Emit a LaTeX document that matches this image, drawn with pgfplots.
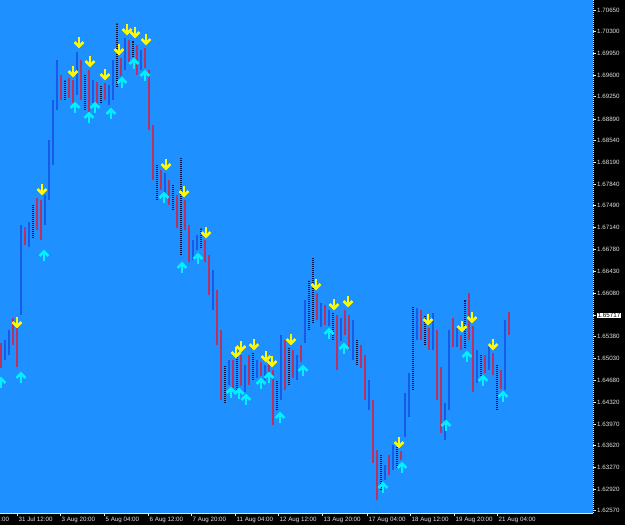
\documentclass[border=0pt]{standalone}
\usepackage{pgfplots}
\pgfplotsset{compat=1.18}
\usepackage{pgfplotstable}
\usepackage{fontspec}
\setmainfont{Liberation Sans}
\definecolor{mtblue}{RGB}{30,144,255}
\definecolor{barred}{RGB}{185,50,95}
\definecolor{barblue}{RGB}{22,92,232}
\definecolor{bardot}{RGB}{15,20,70}
\definecolor{arryel}{RGB}{255,250,0}
\definecolor{arrcyan}{RGB}{0,240,255}
\definecolor{lbl}{RGB}{225,225,225}
\newcommand{\lblfont}{\fontsize{6.2}{7}\selectfont}

\pgfdeclareplotmark{darr}{%
  \pgfsetlinewidth{2.6pt}\pgfsetmiterjoin\pgfsetbuttcap
  \pgfpathmoveto{\pgfqpoint{0pt}{5.8pt}}\pgfpathlineto{\pgfqpoint{0pt}{-3.5pt}}\pgfusepathqstroke
  \pgfpathmoveto{\pgfqpoint{-4.4pt}{0.9pt}}\pgfpathlineto{\pgfqpoint{0pt}{-3.5pt}}\pgfpathlineto{\pgfqpoint{4.4pt}{0.9pt}}\pgfusepathqstroke
}
\pgfdeclareplotmark{uarr}{%
  \pgfsetlinewidth{2.6pt}\pgfsetmiterjoin\pgfsetbuttcap
  \pgfpathmoveto{\pgfqpoint{0pt}{-5.8pt}}\pgfpathlineto{\pgfqpoint{0pt}{3.5pt}}\pgfusepathqstroke
  \pgfpathmoveto{\pgfqpoint{-4.4pt}{-0.9pt}}\pgfpathlineto{\pgfqpoint{0pt}{3.5pt}}\pgfpathlineto{\pgfqpoint{4.4pt}{-0.9pt}}\pgfusepathqstroke
}

% bearish bars (red)
\pgfplotstableread{
x lo hi
1 1.64873 1.65276
13 1.65243 1.65679
17 1.64889 1.65566
25 1.66857 1.67148
37 1.67099 1.67616
41 1.66938 1.67584
61 1.69197 1.69600
69 1.69230 1.69552
73 1.69149 1.69520
81 1.69197 1.69843
89 1.69004 1.69681
97 1.69116 1.69488
105 1.69197 1.69472
121 1.69584 1.69875
129 1.69811 1.70166
137 1.69600 1.70085
145 1.69714 1.70037
149 1.68713 1.69681
153 1.67906 1.68794
161 1.67745 1.68068
169 1.67503 1.67906
177 1.67132 1.67664
185 1.67099 1.67584
189 1.66583 1.67180
205 1.66583 1.66938
209 1.66050 1.66696
217 1.65243 1.66131
221 1.64356 1.65486
233 1.64550 1.65002
241 1.64582 1.65082
249 1.64598 1.65082
261 1.64743 1.64970
269 1.64808 1.65002
273 1.63952 1.64840
285 1.64518 1.65324
293 1.64711 1.65163
301 1.64970 1.65243
317 1.65647 1.66083
325 1.65566 1.65889
337 1.64840 1.65727
345 1.65405 1.65808
349 1.65163 1.65727
361 1.64873 1.65243
365 1.64356 1.65082
373 1.63340 1.64356
377 1.62742 1.63549
389 1.63146 1.63468
401 1.63388 1.63533
421 1.65324 1.65808
429 1.65163 1.65518
437 1.64356 1.65486
441 1.63824 1.64889
453 1.65211 1.65679
461 1.65163 1.65405
469 1.65324 1.66083
473 1.64486 1.65550
485 1.64792 1.65082
493 1.64759 1.65115
501 1.64534 1.64840
509 1.65405 1.65776
}\tblR

% bullish bars (blue)
\pgfplotstableread{
x lo hi
5 1.65002 1.65324
9 1.65082 1.65486
21 1.65727 1.67180
29 1.66825 1.67229
45 1.67180 1.67664
49 1.67584 1.68552
53 1.68148 1.69197
57 1.69036 1.69843
77 1.69278 1.69972
93 1.69149 1.69520
109 1.69116 1.69439
113 1.69197 1.69843
125 1.69681 1.70198
141 1.69681 1.70004
165 1.67664 1.68020
193 1.66615 1.66938
197 1.66777 1.67018
213 1.65808 1.66454
229 1.64598 1.65002
245 1.64486 1.64921
257 1.64711 1.65002
265 1.64679 1.64921
281 1.64356 1.65405
297 1.64679 1.65082
305 1.65276 1.65970
321 1.65534 1.65922
329 1.65550 1.65808
341 1.65308 1.65679
353 1.65002 1.65647
369 1.64195 1.64679
385 1.63065 1.63307
393 1.63227 1.63630
405 1.63759 1.64470
409 1.64082 1.64792
417 1.65324 1.65841
433 1.65163 1.65760
445 1.63711 1.64308
449 1.64195 1.65486
457 1.65211 1.65518
477 1.64631 1.65163
489 1.64840 1.65243
505 1.64518 1.65647
}\tblB

% dotted bars
\pgfplotstableread{
x lo hi
33 1.66970 1.67503
65 1.69197 1.69520
85 1.69036 1.69600
101 1.69149 1.69439
117 1.69407 1.70440
133 1.69891 1.70150
157 1.67584 1.68148
173 1.67422 1.67825
181 1.66696 1.68261
201 1.66809 1.67132
225 1.64308 1.64921
237 1.64518 1.65082
253 1.64679 1.65115
277 1.64195 1.64679
289 1.64598 1.65195
309 1.65486 1.66293
313 1.65599 1.66648
333 1.65324 1.65760
357 1.64921 1.65324
381 1.62904 1.63468
397 1.63259 1.63630
413 1.64518 1.65857
425 1.65243 1.65727
465 1.65195 1.65970
481 1.64679 1.65082
497 1.64195 1.64921
}\tblD

\begin{document}
\begin{tikzpicture}
\path[use as bounding box, fill=black] (0pt,0pt) rectangle (625pt,525pt);
\clip (0pt,0pt) rectangle (625pt,525pt);
\begin{axis}[
  at={(0pt,12pt)}, anchor=south west,
  scale only axis, width=593pt, height=513pt,
  xmin=0, xmax=593, ymin=1.62533, ymax=1.70811,
  axis background/.style={fill=mtblue},
  axis x line*=bottom, axis y line*=right,
  x axis line style={white!90!black, line width=0.6pt},
  y axis line style={white!90!black, line width=0.6pt, dash pattern=on 1pt off 1pt},
  tick style={white!90!black, line width=0.6pt},
  tick align=outside, major tick length=3pt,
  scaled y ticks=false,
  xtick={17,60,104,148,191,235,278,322,367,410,454,497},
  xticklabels={31 Jul 12:00, 3 Aug 20:00, 5 Aug 04:00, 6 Aug 12:00, 7 Aug 20:00, 11 Aug 04:00, 12 Aug 12:00, 13 Aug 20:00, 17 Aug 04:00, 18 Aug 12:00, 19 Aug 20:00, 21 Aug 04:00},
  xticklabel style={anchor=north west, inner sep=0pt, xshift=1.5pt, yshift=-0.5pt, font=\lblfont, text=lbl},
  ytick={1.70650,1.70300,1.69950,1.69600,1.69250,1.68890,1.68540,1.68190,1.67840,1.67490,1.67140,1.66780,1.66430,1.66080,1.65380,1.65030,1.64680,1.64320,1.63970,1.63620,1.63270,1.62920,1.62570},
  yticklabels={1.70650,1.70300,1.69950,1.69600,1.69250,1.68890,1.68540,1.68190,1.67840,1.67490,1.67140,1.66780,1.66430,1.66080,1.65380,1.65030,1.64680,1.64320,1.63970,1.63620,1.63270,1.62920,1.62570},
  yticklabel style={anchor=west, inner sep=0pt, xshift=1pt, font=\lblfont, text=lbl},
  extra y ticks={1.65717}, extra y tick labels={1.65717},
  extra y tick style={yticklabel style={fill=white, text=black, inner sep=0.6pt}},
]
\addplot[forget plot, draw=none, mark=none,
  error bars/.cd, y dir=plus, y explicit, error mark=none,
  error bar style={draw=barred, line width=2.9pt, solid}]
  table[x=x, y=lo, y error expr=\thisrow{hi}-\thisrow{lo}] {\tblR};
\addplot[forget plot, draw=none, mark=none,
  error bars/.cd, y dir=plus, y explicit, error mark=none,
  error bar style={draw=barblue, line width=2.9pt, solid}]
  table[x=x, y=lo, y error expr=\thisrow{hi}-\thisrow{lo}] {\tblB};
\addplot[forget plot, draw=none, mark=none,
  error bars/.cd, y dir=plus, y explicit, error mark=none,
  error bar style={draw=bardot, line width=1.4pt, dash pattern=on 1pt off 1pt}]
  table[x=x, y=lo, y error expr=\thisrow{hi}-\thisrow{lo}] {\tblD};
\addplot[only marks, mark=darr, color=arryel, mark options={solid}] coordinates {
(17,1.65599) (42,1.67745) (73,1.69649) (79,1.70118) (90,1.69811) (105,1.69600) (119,1.70004) (127,1.70327) (135,1.70279) (146,1.70166) (166,1.68148) (184,1.67713) (206,1.67051) (236,1.65115) (241,1.65211) (254,1.65243) (266,1.65050) (272,1.64970) (291,1.65324) (316,1.66212) (334,1.65889) (348,1.65938) (399,1.63663) (428,1.65647) (462,1.65534) (472,1.65679) (493,1.65243)
};
\addplot[only marks, mark=uarr, color=arrcyan, mark options={solid}] coordinates {
(1,1.64647) (21,1.64727) (44,1.66696) (75,1.69084) (89,1.68923) (95,1.69084) (111,1.68988) (122,1.69488) (134,1.69795) (145,1.69600) (164,1.67632) (182,1.66502) (198,1.66648) (231,1.64486) (239,1.64470) (246,1.64373) (261,1.64631) (269,1.64727) (280,1.64082) (303,1.64840) (329,1.65438) (344,1.65195) (383,1.62952) (402,1.63275) (446,1.63952) (467,1.65066) (483,1.64679) (503,1.64421)
};
\end{axis}
\node[anchor=north west, inner sep=0pt, font=\lblfont, text=lbl] at (-25pt,8.5pt) {30 Jul 04:00};
\end{tikzpicture}
\end{document}
